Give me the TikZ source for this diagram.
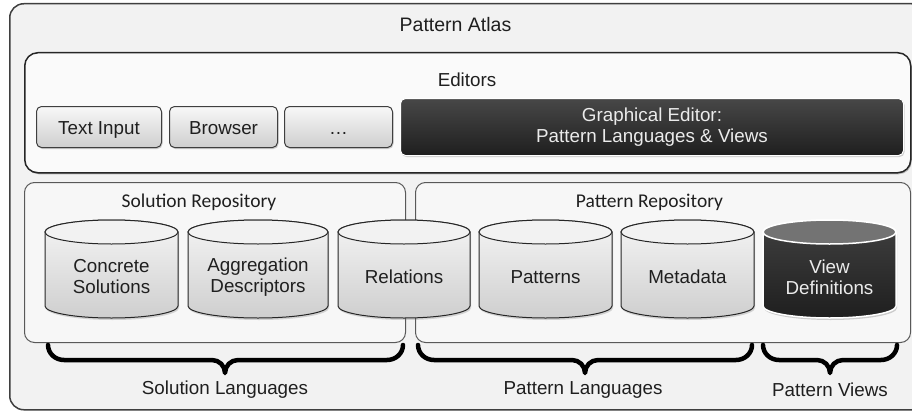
\documentclass[tikz,border=0pt]{standalone}
\usepackage{fontspec}
\setmainfont{Liberation Sans}
\newfontfamily\calfont{Carlito}
\usetikzlibrary{shadows}
\definecolor{atlasfill}{HTML}{F2F2F2}
\definecolor{edgegray}{HTML}{3F3F3F}
\definecolor{repofill}{HTML}{F7F7F7}
\definecolor{txt}{HTML}{1F1F1F}
\tikzset{
  x=1pt, y=1pt,
  mainfont/.style={font=\fontsize{18.8}{21}\selectfont},
  outerbox/.style={draw=edgegray, line width=1.5pt, fill=atlasfill, rounded corners=14pt, inner sep=0pt, anchor=north west},
  editorbox/.style={draw=black!85, line width=1.5pt, fill=white!98!black, rounded corners=13pt, inner sep=0pt, anchor=north west,
    drop shadow={shadow xshift=1pt, shadow yshift=-1.5pt, opacity=.35, fill=black!70}},
  repobox/.style={draw=black!65, line width=1pt, fill=repofill, rounded corners=10pt, inner sep=0pt, anchor=north west},
  btn/.style={draw=edgegray, line width=1pt, top color=gray!6, bottom color=gray!38, rounded corners=5pt,
    anchor=north west, minimum height=41pt, inner sep=0pt, mainfont, text=txt, text height=15.6pt, text depth=0pt,
    drop shadow={shadow xshift=1pt, shadow yshift=-1.5pt, opacity=.3, fill=black!60}},
  darkbtn/.style={draw=white, line width=1pt, top color=black!72, bottom color=black!88, rounded corners=5pt,
    anchor=north west, inner sep=0pt, mainfont, text=white!92!black, align=center,
    drop shadow={shadow xshift=1pt, shadow yshift=-1.5pt, opacity=.3, fill=black!60}},
  headlbl/.style={mainfont, text=txt, inner sep=0pt},
  repolbl/.style={font=\calfont\fontsize{19.5}{22}\selectfont, text=txt, inner sep=0pt},
  cyltext/.style={mainfont, text=txt, align=center, inner sep=0pt},
  cyltextdark/.style={mainfont, text=white!92!black, align=center, inner sep=0pt},
  lightbody/.style={draw=black!85, line width=1pt, top color=gray!8, bottom color=gray!38,
    drop shadow={shadow xshift=1pt, shadow yshift=-2pt, opacity=.25, fill=black!60}},
  lighttop/.style={draw=black!85, line width=1pt, fill=gray!10},
  darkbody/.style={draw=white, line width=1.5pt, top color=black!75, bottom color=black!88,
    drop shadow={shadow xshift=1pt, shadow yshift=-2pt, opacity=.3, fill=black!60}},
  darktop/.style={draw=white, line width=1.5pt, fill=gray!90!black},
  bracepath/.style={draw=black, line width=4.5pt, line cap=round, line join=round},
}
% #1 centre x, #2 half width, #3 name, #4 body style, #5 top style, #6 text style, #7 text
\newcommand{\dbcyl}[7]{%
  \path[#4] (#1-#2,-232) -- (#1-#2,-306)
     arc[start angle=180, end angle=360, x radius=#2, y radius=12]
     -- (#1+#2,-232)
     arc[start angle=0, end angle=180, x radius=#2, y radius=12] -- cycle;
  \path[#5] (#1,-232) ellipse[x radius=#2, y radius=12];
  \node[#6] (#3) at (#1,-277) {#7};
}
% #1 left x, #2 right x, #3 centre x, #4 name
\newcommand{\curlybrace}[4]{%
  \coordinate (#4l) at (#1,-345);
  \coordinate (#4r) at (#2,-345);
  \coordinate (#4tip) at (#3,-373);
  \draw[bracepath] (#4l) to[out=-90, in=180] ++(16,-15) -- (#3-13,-360)
     to[out=0, in=90] (#4tip) to[out=90, in=180] (#3+13,-360)
     -- (#2-16,-360) to[out=0, in=-90] (#4r);
}
\begin{document}
\begin{tikzpicture}
\useasboundingbox (0,0) rectangle (912,-412);
\clip (0,0) rectangle (912,-412);

% outer frame
\node[outerbox, minimum width=916pt, minimum height=406pt] (atlasbox) at (9,-3) {};
\node[headlbl, font=\fontsize{19.5}{22}\selectfont] (atlas) at (455.5,-25) {Pattern Atlas};

% editors
\node[editorbox, minimum width=886pt, minimum height=120pt] (editorsbox) at (24,-52) {};
\node[headlbl] (editors) at (467,-80) {Editors};
\node[btn, minimum width=125pt] (textinput) at (36,-106) {Text Input};
\node[btn, minimum width=108pt] (browser) at (169,-106) {Browser};
\node[btn, minimum width=108pt] (more) at (284,-106) {…};
\node[darkbtn, minimum width=503pt, minimum height=57pt] (graphical) at (400,-98)
  {Graphical Editor:\\Pattern Languages \& Views};

% repositories
\node[repobox, minimum width=381pt, minimum height=160pt] (solrepo) at (24,-182) {};
\node[repobox, minimum width=495pt, minimum height=160pt] (patrepo) at (415,-182) {};
\node[repolbl] (solrepolbl) at (199,-202) {Solution Repository};
\node[repolbl] (patrepolbl) at (649.5,-202) {Pattern Repository};

% databases
\dbcyl{111.5}{66.5}{concrete}{lightbody}{lighttop}{cyltext}{Concrete\\Solutions}
\dbcyl{258}{70}{aggregation}{lightbody}{lighttop}{cyltext}{Aggregation\\Descriptors}
\dbcyl{404}{66}{relations}{lightbody}{lighttop}{cyltext}{Relations}
\dbcyl{545.5}{66.5}{patterns}{lightbody}{lighttop}{cyltext}{Patterns}
\dbcyl{687.5}{66.5}{metadata}{lightbody}{lighttop}{cyltext}{Metadata}
\dbcyl{829.5}{66.5}{viewdefs}{darkbody}{darktop}{cyltextdark}{View\\Definitions}

% braces
\curlybrace{48}{403}{225}{solb}
\curlybrace{418}{752}{585}{patb}
\curlybrace{763}{897}{830}{viewb}
\node[headlbl] (sollang) at (225,-390) {Solution Languages};
\node[headlbl] (patlang) at (583,-390) {Pattern Languages};
\node[headlbl] (patviews) at (830,-390) {Pattern Views};
\end{tikzpicture}
\end{document}
